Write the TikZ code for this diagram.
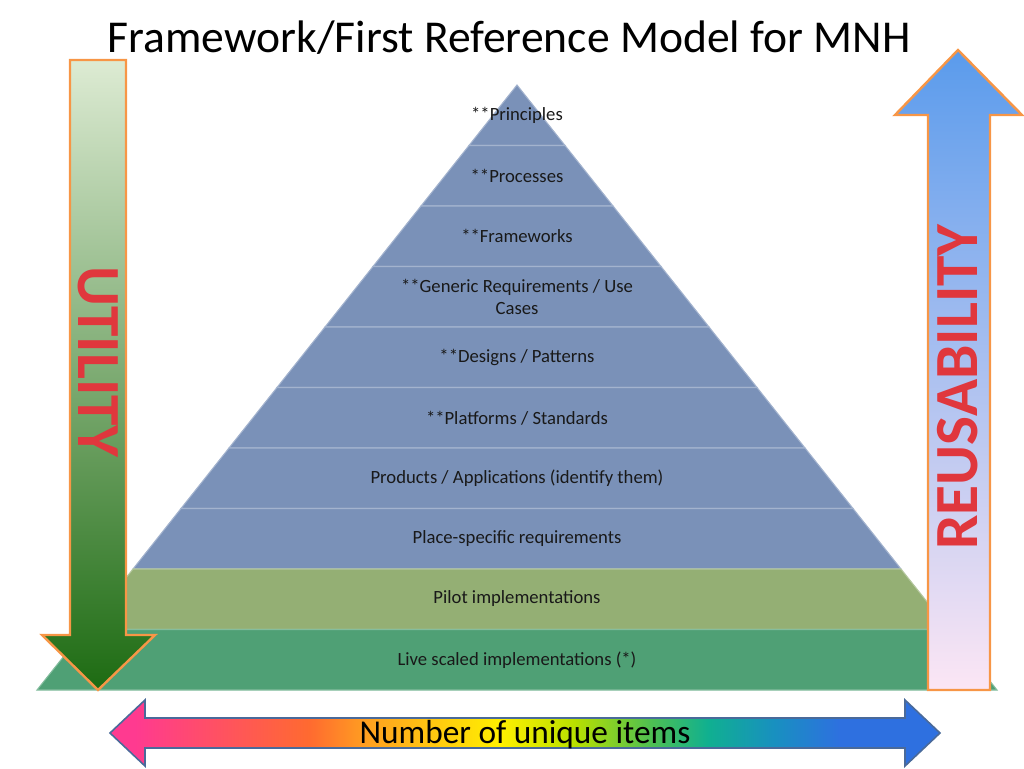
\documentclass[tikz,border=0pt]{standalone}
\usepackage{fontspec}
\setmainfont{Carlito}
\definecolor{layerblue}{HTML}{7A91B8}
\definecolor{layeredge}{HTML}{A3B3CE}
\definecolor{pilotgreen}{HTML}{94AF74}
\definecolor{livegreen}{HTML}{4FA075}
\definecolor{arroworange}{HTML}{F79646}
\definecolor{wordred}{HTML}{E0373D}
\definecolor{utiltop}{HTML}{DDEBD3}
\definecolor{utilbottom}{HTML}{1D6B12}
\definecolor{reusetop}{HTML}{5A9BEC}
\definecolor{reusebottom}{HTML}{FCE6F4}
\definecolor{barline}{HTML}{4A6A9A}
\definecolor{rbpink}{HTML}{FF3A90}
\definecolor{rborange}{HTML}{FF6A30}
\definecolor{rbamber}{HTML}{FFA020}
\definecolor{rbyellow}{HTML}{FFF000}
\definecolor{rblime}{HTML}{B8E000}
\definecolor{rbgreen}{HTML}{50C050}
\definecolor{rbteal}{HTML}{10B090}
\definecolor{rbsea}{HTML}{1890C0}
\definecolor{rbblue}{HTML}{2E70E0}
\pgfdeclarehorizontalshading{rainbowbar}{100bp}{color(0bp)=(rbpink); color(25bp)=(rbpink);
  color(26.5bp)=(rbpink); color(37bp)=(rborange); color(40.5bp)=(rbamber); color(48.5bp)=(rbyellow);
  color(53bp)=(rblime); color(57.5bp)=(rbgreen); color(61bp)=(rbteal); color(65bp)=(rbsea);
  color(69bp)=(rbblue); color(75bp)=(rbblue); color(100bp)=(rbblue)}
\begin{document}
\begin{tikzpicture}[x=0.75pt,y=-0.75pt]
    \tikzstyle{blayer}=[fill=layerblue, draw=layeredge, line width=0.8pt]
    \tikzstyle{ltext}=[font=\fontsize{14}{16}\selectfont, align=center, text=black!90]
    \tikzstyle{wordart}=[font=\fontsize{46}{46}\selectfont\bfseries, text=wordred]
    \useasboundingbox (0,0) rectangle (1024,768);

    \draw [blayer] (469,145.5) -- (517,85) -- (565,145.5) -- cycle;
    \draw [blayer] (421,206) -- (469,145.5) -- (565,145.5) -- (613,206) -- cycle;
    \draw [blayer] (373,266.5) -- (421,206) -- (613,206) -- (661,266.5) -- cycle;
    \draw [blayer] (325,327) -- (373,266.5) -- (661,266.5) -- (709,327) -- cycle;
    \draw [blayer] (277,387.5) -- (325,327) -- (709,327) -- (757,387.5) -- cycle;
    \draw [blayer] (229,448) -- (277,387.5) -- (757,387.5) -- (805,448) -- cycle;
    \draw [blayer] (181,508.5) -- (229,448) -- (805,448) -- (853,508.5) -- cycle;
    \draw [blayer] (133,569) -- (181,508.5) -- (853,508.5) -- (901,569) -- cycle;
    \draw [fill=pilotgreen, draw=pilotgreen!70!white, line width=0.8pt] (85,629.5) -- (133,569) -- (901,569) -- (949,629.5) -- cycle;
    \draw [fill=livegreen, draw=livegreen!70!white, line width=0.8pt] (37,690) -- (85,629.5) -- (949,629.5) -- (997,690) -- cycle;

    \node [ltext] (principles) at (517,115) {**Principles};
    \node [ltext] (processes) at (517,176) {**Processes};
    \node [ltext] (frameworks) at (517,236) {**Frameworks};
    \node [ltext] (generic) at (517,297) {**Generic Requirements / Use\\Cases};
    \node [ltext] (designs) at (517,357) {**Designs / Patterns};
    \node [ltext] (platforms) at (517,418) {**Platforms / Standards};
    \node [ltext] (products) at (517,478) {Products / Applications (identify them)};
    \node [ltext] (place) at (517,539) {Place-specific requirements};
    \node [ltext] (pilot) at (517,599) {Pilot implementations};
    \node [ltext] (live) at (517,660) {Live scaled implementations (*)};

    \draw [draw=arroworange, line width=1.8pt, top color=utiltop, bottom color=utilbottom]
      (70,60) -- (126,60) -- (126,635) -- (155,635) -- (98,690) -- (42,635) -- (70,635) -- cycle;
    \node [wordart, rotate=-90] (utility) at (98,362) {UTILITY};

    \draw [draw=arroworange, line width=1.8pt, top color=reusetop, bottom color=reusebottom]
      (928,690) -- (928,115) -- (895,115) -- (958,50) -- (1022,115) -- (990,115) -- (990,690) -- cycle;
    \node [wordart, rotate=90] (reusability) at (958,387) {REUSABILITY};

    \draw [draw=barline, line width=1.2pt, shading=rainbowbar]
      (110,733) -- (145,700) -- (145,718) -- (905,718) -- (905,700) -- (940,733)
      -- (905,766) -- (905,748) -- (145,748) -- (145,766) -- cycle;
    \node [font=\fontsize{25}{25}\selectfont] (items) at (525,735) {Number of unique items};

    \node [font=\fontsize{34.2}{34}\selectfont, anchor=base] (title) at (509,52) {Framework/First Reference Model for MNH};
  \end{tikzpicture}
\end{document}
